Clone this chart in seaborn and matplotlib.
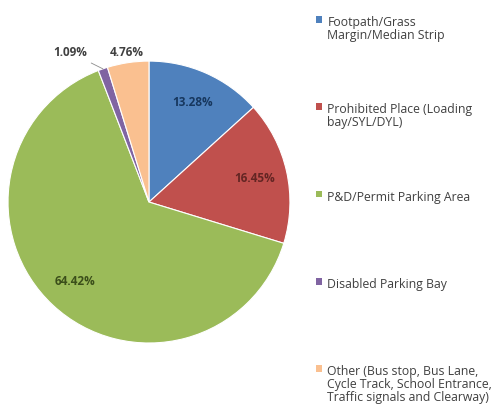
# parking_pie.py
# Share of parking contraventions by location type

import numpy as np
import matplotlib
matplotlib.use("Agg")
import matplotlib.pyplot as plt
import seaborn as sns

# -------------------------
# Data
# -------------------------
categories = [
    "Footpath/Grass\nMargin/Median Strip",
    "Prohibited Place (Loading\nbay/SYL/DYL)",
    "P&D/Permit Parking Area",
    "Disabled Parking Bay",
    "Other (Bus stop, Bus Lane,\nCycle Track, School Entrance,\nTraffic signals and Clearway)",
]
shares = [13.28, 16.45, 64.42, 1.09, 4.76]

colors = ["#4F81BD", "#C0504D", "#9BBB59", "#8064A2", "#FAC090"]
label_colors = ["#17375E", "#632523", "#3B4E1A", "#404040", "#404040"]

# -------------------------
# Plot
# -------------------------
sns.set_style("white")
plt.rcParams["font.family"] = ["Open Sans", "DejaVu Sans"]

fig = plt.figure(figsize=(4.93, 4.08), dpi=100)
ax = fig.add_axes([0.0162, 0.1593, 0.572, 0.691])

wedges, texts, autotexts = ax.pie(
    shares,
    colors=colors,
    startangle=90,
    counterclock=False,
    autopct="%.2f%%",
    pctdistance=0.77,
    wedgeprops=dict(edgecolor="white", linewidth=0.8),
    textprops=dict(fontsize=8.5, fontweight="bold"),
)
ax.set_aspect("equal")
ax.set_xlim(-1, 1)
ax.set_ylim(-1, 1)

for t, c in zip(autotexts, label_colors):
    t.set_color(c)


def mid_angle(w):
    return np.deg2rad((w.theta1 + w.theta2) / 2)


# small slices: labels outside the pie
a = mid_angle(wedges[4])
autotexts[4].set_position((1.07 * np.cos(a), 1.07 * np.sin(a)))

a = mid_angle(wedges[3])
autotexts[3].set_visible(False)
ax.annotate(
    autotexts[3].get_text(),
    xy=(np.cos(a), np.sin(a)), xytext=(np.cos(a) - 0.23, 1.06),
    ha="center", va="center", fontsize=8.5, fontweight="bold", color="#404040",
    arrowprops=dict(arrowstyle="-", color="#8c8c8c", lw=0.6, shrinkA=1, shrinkB=0),
    annotation_clip=False,
)

# legend: one entry per block, evenly spaced down the right side
for i, (w, lab) in enumerate(zip(wedges, categories)):
    leg = fig.legend(
        [w], [lab],
        loc="upper left", bbox_to_anchor=(0.628, 0.975 - i * 0.2135),
        frameon=False, fontsize=8.8, labelspacing=0,
        handlelength=0.5, handleheight=0.5, handletextpad=0.45,
        borderpad=0, labelcolor="#404040",
    )
    for t in leg.get_texts():
        t.set_linespacing(1.0)
    for col in leg._legend_handle_box.get_children():
        for item in col.get_children():
            item.align = "top"
    for h in leg.legend_handles:
        h.set_edgecolor("none")

fig.savefig("out.png", dpi=100)
